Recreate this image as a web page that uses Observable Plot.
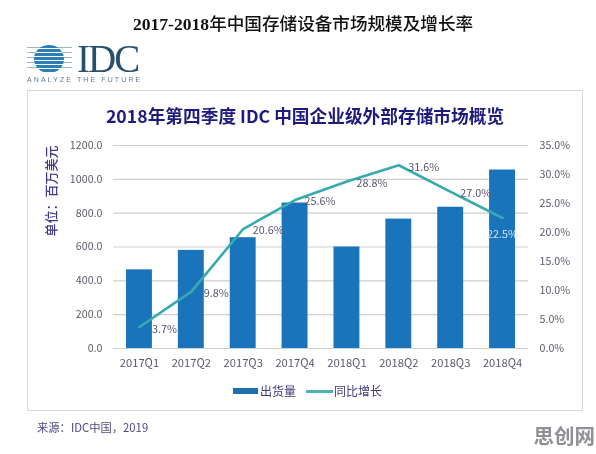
<!DOCTYPE html>
<html><head><meta charset="utf-8">
<script src="https://cdn.jsdelivr.net/npm/d3@7"></script>
<script src="https://cdn.jsdelivr.net/npm/@observablehq/plot@0.6"></script>
<style>
html,body{margin:0;padding:0;background:#fff;width:596px;height:454px;overflow:hidden}
body{font-family:"Noto Sans CJK SC","Noto Sans",sans-serif;position:relative}
#root{position:absolute;left:0;top:0;width:596px;height:454px;filter:blur(0.35px)}
#chart{position:absolute;left:0;top:0}
.a{position:absolute;white-space:nowrap}
#title{left:0;width:606px;text-align:center;top:11px;font:bold 17.6px/24px "Liberation Serif","Noto Sans CJK SC",serif;color:#111}
#title span{font-family:"Noto Sans CJK SC";font-weight:500;font-size:17.6px}
#frame{left:27px;top:90px;width:554px;height:319px;border:1.5px solid #d9d9d9}
#sub{left:0;width:610px;text-align:center;top:103px;font:700 17.7px/24px "Noto Sans CJK SC",sans-serif;color:#1e1a7e}
#globe{left:34px;top:45px;width:30px;height:28px;border-radius:50%;background:repeating-linear-gradient(180deg,#2c7fb4 0 3px,#fff 3px 4px)}
#lines{left:27px;top:47px;width:45px;height:25px;background:repeating-linear-gradient(180deg,#9cb4c4 0 1px,transparent 1px 5px)}
#idc{left:77px;top:45px;font:400 39px/28px "Liberation Serif",serif;color:#27506e;letter-spacing:-2px}
#tag{left:27px;top:75px;font:400 7px/10px "Liberation Sans",sans-serif;letter-spacing:2.1px;color:#5c7b90}
#unit{left:50px;top:191px;transform:translate(-50%,-50%) rotate(-90deg);font:500 13px/15px "Noto Sans CJK SC";color:#3d3a8c}
#leg1{left:233px;top:388px;width:25px;height:6px;background:#1f6fae}
#leg2{left:306px;top:390px;width:27px;height:2.5px;background:#4ab3b5}
.lt{top:382px;font:400 12px/18px "Noto Sans CJK SC";color:#3d3a7c}
#src{left:37px;top:419px;font:400 11.3px/16px "Noto Sans CJK SC";color:#4a4a80}
#mark{right:1px;top:422px;font:700 20.5px/26px "Noto Sans CJK SC";color:#8f8f95}
</style></head><body>
<div id="root"></div>
<script>
const quarters = ["2017Q1","2017Q2","2017Q3","2017Q4","2018Q1","2018Q2","2018Q3","2018Q4"];
const shipments = [465, 580, 655, 860, 600, 765, 835, 1055];
const growth = [3.7, 9.8, 20.6, 25.6, 28.8, 31.6, 27.0, 22.5];
const leftTicks = [0, 200, 400, 600, 800, 1000, 1200];
const rightTicks = [0, 5, 10, 15, 20, 25, 30, 35];
const yMax = 1200, pctMax = 35;
const toY = p => p * yMax / pctMax;

const rows = quarters.map((q, i) => ({q, v: shipments[i], g: growth[i]}));
const last = rows.slice(-1), rest = rows.slice(0, -1);

const chart = Plot.plot({
  width: 596, height: 454,
  marginTop: 145, marginBottom: 106, marginLeft: 113, marginRight: 68,
  style: {background: "transparent", fontFamily: "'Noto Sans CJK SC','Noto Sans',sans-serif"},
  x: {domain: quarters, paddingInner: 0.5, paddingOuter: 0.25, round: false, label: null},
  y: {domain: [0, yMax], label: null},
  marks: [
    Plot.gridY(leftTicks, {stroke: "#cfcfcf", strokeOpacity: 1, strokeWidth: 1.2}),
    Plot.barY(rows, {x: "q", y: "v", fill: "#1a74bb"}),
    Plot.line(rows, {x: "q", y: d => toY(d.g), stroke: "#37aab0", strokeWidth: 2.6, curve: "linear"}),
    Plot.text(rest, {x: "q", y: d => toY(d.g), text: d => d.g.toFixed(1) + "%", dx: 25, dy: 2, fontSize: 10.8, fill: "#55556a"}),
    Plot.text(last, {x: "q", y: d => toY(d.g), text: d => d.g.toFixed(1) + "%", dy: 17, fontSize: 10.8, fill: "#d5e8f5"}),
    Plot.axisX({tickSize: 0, tickPadding: 11, fontSize: 11.2, color: "#5a5a6a", label: null}),
    Plot.axisY({ticks: leftTicks, tickFormat: d => d.toFixed(1), tickSize: 0, tickPadding: 11, fontSize: 10.7, color: "#5a5a6a", label: null}),
    Plot.axisY({anchor: "right", ticks: rightTicks.map(toY), tickFormat: d => (d * pctMax / yMax).toFixed(1) + "%", tickSize: 0, tickPadding: 11, fontSize: 10.7, color: "#5a5a6a", label: null})
  ]
});
chart.id = "chart";

const root = document.getElementById("root");
root.innerHTML = `
<div class="a" id="frame"></div>
<div class="a" id="title">2017-2018<span>年中国存储设备市场规模及增长率</span></div>
<div class="a" id="lines"></div><div class="a" id="globe"></div>
<div class="a" id="idc">IDC</div>
<div class="a" id="tag">ANALYZE THE FUTURE</div>
<div class="a" id="sub">2018年第四季度 IDC 中国企业级外部存储市场概览</div>`;
root.appendChild(chart);
root.insertAdjacentHTML("beforeend", `
<div class="a" id="unit">单位：百万美元</div>
<div class="a" id="leg1"></div><div class="a lt" style="left:260px">出货量</div>
<div class="a" id="leg2"></div><div class="a lt" style="left:334px">同比增长</div>
<div class="a" id="src">来源：IDC中国，2019</div>
<div class="a" id="mark">思创网</div>`);
</script>
</body></html>
